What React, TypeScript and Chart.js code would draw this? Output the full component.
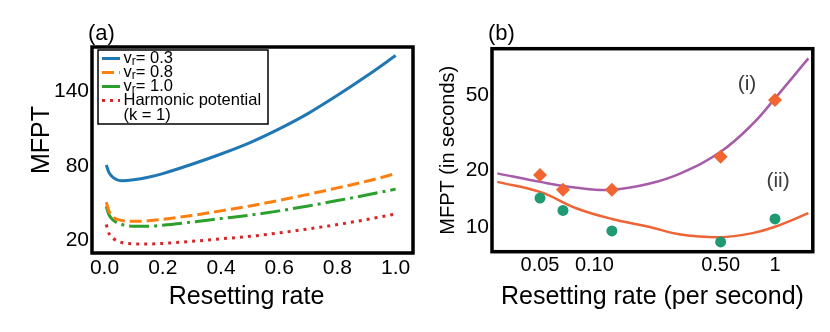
import React, { useEffect, useRef } from 'react';
import { Chart, registerables } from 'chart.js';
Chart.register(...registerables);

const FONT = '"Liberation Sans", Arial, Helvetica, sans-serif';

// ---------- Panel (a) ----------
const RATE_A = [0.006, 0.015, 0.03, 0.06, 0.1, 0.15, 0.2, 0.3, 0.4, 0.5, 0.6, 0.7, 0.8, 0.9, 1.0];
const MFPT_V03 = [81, 75, 70.8, 68.3, 69, 71, 74, 81.5, 89.8, 99, 110, 122.5, 137, 152.5, 169];
const MFPT_V08 = [51, 44, 39, 36.3, 35.6, 36, 37.2, 40.3, 44, 48, 52.5, 57.3, 62.5, 67.8, 74];
const MFPT_V10 = [47.7, 41, 36.5, 33, 31.7, 31.7, 32.5, 35, 37.8, 40.6, 44, 48, 52.3, 56.8, 61.5];
const MFPT_HARM = [33, 26, 21.8, 18.5, 17.5, 17.3, 17.8, 19.5, 21.5, 23.5, 26.3, 29.5, 33, 37, 41.5];
const LABELS_A = ['v_r= 0.3', 'v_r= 0.8', 'v_r= 1.0', 'Harmonic potential\n(k = 1)'];
const X_TICKS_A = [0, 0.2, 0.4, 0.6, 0.8, 1.0];
const Y_TICKS_A = [20, 80, 140];
const X_TITLE_A = 'Resetting rate';
const Y_TITLE_A = 'MFPT';

// ---------- Panel (b) ----------
const RATE_PTS = [0.05, 0.067, 0.125, 0.5, 1];
const MFPT_I_PTS = [18.8, 15.7, 15.7, 23.5, 47.0];
const MFPT_II_PTS = [14.2, 12.2, 9.5, 8.3, 11.0];
const RATE_FIT = [0.029, 0.05, 0.08, 0.125, 0.2, 0.3, 0.5, 0.75, 1.0, 1.53];
const FIT_I = [19.2, 17.3, 16.1, 15.7, 16.9, 19.2, 25.0, 35.0, 48.0, 78.3];
const FIT_II = [17.3, 15.3, 12.5, 11.0, 10.0, 9.1, 8.8, 9.25, 10.0, 11.8];
const X_TICKS_B = [0.05, 0.1, 0.5, 1];
const X_TICK_LABELS_B = ['0.05', '0.10', '0.50', '1'];
const Y_TICKS_B = [10, 20, 50];
const CURVE_NOTES = [
  { text: '(i)', x: 0.7, y: 57 },
  { text: '(ii)', x: 1.04, y: 17.5 },
];

const pts = (xs: number[], ys: number[]) => xs.map((x, i) => ({ x, y: ys[i] }));

const boxPlugin = {
  id: 'frameBox',
  afterDatasetsDraw(chart: any) {
    const { ctx, chartArea: a } = chart;
    ctx.save();
    ctx.strokeStyle = '#000';
    ctx.lineWidth = 3.5;
    ctx.strokeRect(a.left, a.top, a.right - a.left, a.bottom - a.top);
    ctx.restore();
  },
};

const panelLabel = (text: string) => ({
  id: 'panelLabel' + text,
  afterDraw(chart: any) {
    const { ctx, chartArea: a } = chart;
    ctx.save();
    ctx.font = `22px ${FONT}`;
    ctx.fillStyle = '#000';
    ctx.textAlign = 'left';
    ctx.textBaseline = 'alphabetic';
    ctx.fillText(text, a.left - 4, 40);
    ctx.restore();
  },
});

const axisTitlesA = {
  id: 'axisTitlesA',
  afterDraw(chart: any) {
    const { ctx, chartArea: a } = chart;
    ctx.save();
    ctx.font = `25px ${FONT}`;
    ctx.fillStyle = '#000';
    ctx.textAlign = 'center';
    ctx.textBaseline = 'middle';
    ctx.fillText(X_TITLE_A, (a.left + a.right) / 2 - 6, a.bottom + 44);
    ctx.translate(a.left - 50, (a.top + a.bottom) / 2 - 10);
    ctx.rotate(-Math.PI / 2);
    ctx.fillText(Y_TITLE_A, 0, 0);
    ctx.restore();
  },
};

function drawRich(ctx: CanvasRenderingContext2D, text: string, x: number, y: number) {
  const m = text.match(/^(.*?)_(\w)(.*)$/);
  ctx.font = `16.5px ${FONT}`;
  if (!m) {
    ctx.fillText(text, x, y);
    return;
  }
  ctx.fillText(m[1], x, y);
  let w = ctx.measureText(m[1]).width;
  ctx.font = `12px ${FONT}`;
  ctx.fillText(m[2], x + w, y + 3);
  w += ctx.measureText(m[2]).width;
  ctx.font = `16.5px ${FONT}`;
  ctx.fillText(m[3], x + w, y);
}

const legendPlugin = {
  id: 'legendA',
  afterDraw(chart: any) {
    const { ctx, chartArea: a } = chart;
    const x0 = a.left + 6;
    const y0 = a.top + 3;
    const w = 170;
    const h = 74;
    ctx.save();
    ctx.fillStyle = '#fff';
    ctx.fillRect(x0, y0, w, h);
    ctx.strokeStyle = '#000';
    ctx.lineWidth = 1.5;
    ctx.strokeRect(x0, y0, w, h);
    ctx.textBaseline = 'middle';
    ctx.textAlign = 'left';
    chart.data.datasets.forEach((ds: any, i: number) => {
      const y = y0 + 8.5 + i * 14;
      ctx.save();
      ctx.strokeStyle = ds.borderColor;
      ctx.lineWidth = 3;
      ctx.setLineDash(ds.borderDash || []);
      ctx.beginPath();
      ctx.moveTo(x0 + 4, y);
      ctx.lineTo(x0 + 22, y);
      ctx.stroke();
      ctx.restore();
      ctx.fillStyle = '#000';
      const lines = String(ds.label).split('\n');
      lines.forEach((ln, j) => drawRich(ctx, ln, x0 + 25.5, y + j * 14.5));
    });
    ctx.restore();
  },
};

const notesPlugin = {
  id: 'curveNotes',
  afterDatasetsDraw(chart: any) {
    const { ctx, scales } = chart;
    ctx.save();
    ctx.font = `21px ${FONT}`;
    ctx.fillStyle = '#3c3c3c';
    ctx.textAlign = 'center';
    ctx.textBaseline = 'middle';
    CURVE_NOTES.forEach((n) => {
      ctx.fillText(n.text, scales.x.getPixelForValue(n.x), scales.y.getPixelForValue(n.y));
    });
    ctx.restore();
  },
};

function ChartA() {
  const ref = useRef<HTMLCanvasElement>(null);
  useEffect(() => {
    const line = (label: string, ys: number[], color: string, dash: number[]) => ({
      label,
      data: pts(RATE_A, ys),
      borderColor: color,
      backgroundColor: color,
      borderWidth: 3,
      borderDash: dash,
      pointRadius: 0,
      fill: false,
      cubicInterpolationMode: 'monotone' as const,
    });
    const chart = new Chart(ref.current!, {
      type: 'line',
      data: {
        datasets: [
          line(LABELS_A[0], MFPT_V03, '#1f77b4', []),
          line(LABELS_A[1], MFPT_V08, '#ff7f0e', [12, 5]),
          line(LABELS_A[2], MFPT_V10, '#2ca02c', [20, 5, 3, 5]),
          line(LABELS_A[3], MFPT_HARM, '#d62728', [3, 5]),
        ],
      },
      options: {
        animation: false,
        responsive: false,
        layout: { padding: { left: 0, right: 7, top: 47, bottom: 0 } },
        plugins: { legend: { display: false }, tooltip: { enabled: false } },
        scales: {
          x: {
            type: 'linear',
            min: -0.043,
            max: 1.0595,
            grid: { display: false, drawTicks: false },
            border: { display: false },
            afterBuildTicks: (s: any) => {
              s.ticks = X_TICKS_A.map((v) => ({ value: v }));
            },
            afterFit: (s: any) => {
              s.height = 79;
            },
            ticks: {
              callback: (v: any) => Number(v).toFixed(1),
              font: { family: FONT, size: 21 },
              color: '#000',
              padding: 3,
              maxRotation: 0,
              autoSkip: false,
            },
            title: { display: false, text: X_TITLE_A },
          },
          y: {
            type: 'linear',
            min: 10.1,
            max: 175.9,
            grid: { display: false, drawTicks: false },
            border: { display: false },
            afterBuildTicks: (s: any) => {
              s.ticks = Y_TICKS_A.map((v) => ({ value: v }));
            },
            afterFit: (s: any) => {
              s.width = 92;
            },
            ticks: {
              callback: (v: any) => String(v),
              font: { family: FONT, size: 21 },
              color: '#000',
              padding: 3,
              autoSkip: false,
            },
            title: { display: false, text: Y_TITLE_A },
          },
        },
      },
      plugins: [boxPlugin, legendPlugin, axisTitlesA, panelLabel('(a)')],
    });
    return () => chart.destroy();
  }, []);
  return <canvas ref={ref} width={420} height={332} style={{ width: 420, height: 332, display: 'block' }} />;
}

function ChartB() {
  const ref = useRef<HTMLCanvasElement>(null);
  useEffect(() => {
    const chart = new Chart(ref.current!, {
      type: 'scatter',
      data: {
        datasets: [
          {
            label: 'data (i)',
            data: pts(RATE_PTS, MFPT_I_PTS),
            pointStyle: 'rectRot',
            pointRadius: 7,
            backgroundColor: '#f26430',
            borderColor: '#f26430',
            borderWidth: 0,
            showLine: false,
            order: 0,
          },
          {
            label: 'data (ii)',
            data: pts(RATE_PTS, MFPT_II_PTS),
            pointStyle: 'circle',
            pointRadius: 5.5,
            backgroundColor: '#1f9a72',
            borderColor: '#1f9a72',
            borderWidth: 0,
            showLine: false,
            order: 0,
          },
          {
            label: 'fit (i)',
            data: pts(RATE_FIT, FIT_I),
            showLine: true,
            borderColor: '#a65ca9',
            backgroundColor: '#a65ca9',
            borderWidth: 2.5,
            pointRadius: 0,
            tension: 0.4,
            order: 1,
          },
          {
            label: 'fit (ii)',
            data: pts(RATE_FIT, FIT_II),
            showLine: true,
            borderColor: '#ef6434',
            backgroundColor: '#ef6434',
            borderWidth: 2.5,
            pointRadius: 0,
            tension: 0.4,
            order: 1,
          },
        ],
      },
      options: {
        animation: false,
        responsive: false,
        layout: { padding: { left: 0, right: 17.2, top: 48.7, bottom: 0 } },
        plugins: { legend: { display: false }, tooltip: { enabled: false } },
        scales: {
          x: {
            type: 'logarithmic',
            min: 0.02711,
            max: 1.619,
            grid: { display: false, drawTicks: false },
            border: { display: false },
            afterBuildTicks: (s: any) => {
              s.ticks = X_TICKS_B.map((v) => ({ value: v }));
            },
            afterFit: (s: any) => {
              s.height = 80.3;
            },
            ticks: {
              callback: (_v: any, i: number) => X_TICK_LABELS_B[i],
              font: { family: FONT, size: 20 },
              color: '#000',
              padding: 1.5,
              maxRotation: 0,
              autoSkip: false,
            },
            title: {
              display: true,
              text: 'Resetting rate (per second)',
              font: { family: FONT, size: 25 },
              color: '#000',
              padding: { top: 0, bottom: 20 },
            },
          },
          y: {
            type: 'logarithmic',
            min: 7.37,
            max: 88.1,
            grid: { display: false, drawTicks: false },
            border: { display: false },
            afterBuildTicks: (s: any) => {
              s.ticks = Y_TICKS_B.map((v) => ({ value: v }));
            },
            afterFit: (s: any) => {
              s.width = 72;
            },
            ticks: {
              callback: (v: any) => String(v),
              font: { family: FONT, size: 21 },
              color: '#000',
              padding: 3,
              autoSkip: false,
            },
            title: {
              display: true,
              text: 'MFPT (in seconds)',
              font: { family: FONT, size: 20 },
              color: '#000',
              padding: { top: 16, bottom: 0 },
            },
          },
        },
      },
      plugins: [boxPlugin, notesPlugin, panelLabel('(b)')],
    });
    return () => chart.destroy();
  }, []);
  return <canvas ref={ref} width={410} height={332} style={{ width: 410, height: 332, display: 'block' }} />;
}

export default function App() {
  return (
    <div style={{ position: 'fixed', left: 0, top: 0, width: 830, height: 332, background: '#fff' }}>
      <div style={{ position: 'absolute', left: 0, top: 0 }}>
        <ChartA />
      </div>
      <div style={{ position: 'absolute', left: 420, top: 0 }}>
        <ChartB />
      </div>
    </div>
  );
}
